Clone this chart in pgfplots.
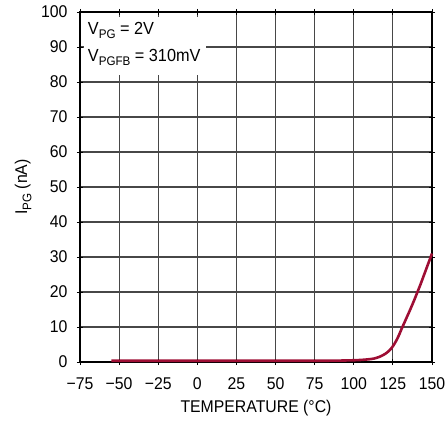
\documentclass[border=0pt]{standalone}
\usepackage{pgfplots}
\pgfplotsset{compat=1.18}
\usepackage{fontspec}
\setmainfont[FakeStretch=0.93]{Liberation Sans}
\definecolor{curve}{RGB}{158,14,52}
\newcommand{\sub}[1]{\raisebox{-4.5pt}{\fontsize{12.5}{13}\selectfont #1}}
\begin{document}
\begin{tikzpicture}
\begin{axis}[
  name=ax,
  at={(0,0)}, anchor=south west,
  scale only axis, width=352pt, height=350pt,
  xmin=-75, xmax=150, ymin=0, ymax=100,
  xtick={-75,-50,-25,0,25,50,75,100,125,150},
  xticklabels={−75,−50,−25,0,25,50,75,100,125,150},
  ytick={0,10,20,30,40,50,60,70,80,90,100},
  yticklabels={0,10,20,30,40,50,60,70,80,90,100},
  grid=major,
  grid style={line width=1.1pt, color=black!72},
  axis line style={line width=1.2pt, black},
  tick style={line width=0.9pt, black},
  major tick length=6pt,
  tick align=center,
  tick label style={font=\fontsize{17}{19}\selectfont},
  xticklabel style={anchor=base, yshift=-24pt},
  yticklabel style={anchor=east, xshift=-6pt},
  clip=false,
]
\addplot[color=curve, line width=2.6pt, smooth] coordinates {
  (-55,0.35) (-25,0.35) (0,0.35) (25,0.35) (50,0.35) (75,0.35) (90,0.4) (100,0.5)
  (105,0.6) (110,0.8) (113,1.0) (116,1.4) (118,1.8) (120,2.3) (121.5,2.8)
  (123,3.4) (124.5,4.2) (126,5.2) (127.5,6.4) (129,7.8) (130.5,9.4) (132,10.9)
  (134,12.9) (136,14.9) (138,17.0) (140,19.2) (142.5,22.0) (145,25.0)
  (147.5,28.0) (150,31)
};
\end{axis}
\fill[white] ([shift={(3.5pt,-5.5pt)}]ax.north west) rectangle ([shift={(126pt,-63pt)}]ax.north west);
\node[anchor=base west, inner sep=0pt, font=\fontsize{17.5}{19}\selectfont] at ([shift={(7.7pt,-22.3pt)}]ax.north west) {V\sub{PG} = 2V};
\node[anchor=base west, inner sep=0pt, font=\fontsize{17.5}{19}\selectfont] at ([shift={(7.7pt,-49pt)}]ax.north west) {V\sub{PGFB} = 310mV};
\node[anchor=base, font=\fontsize{17}{19}\selectfont] at ([yshift=-50pt]ax.south) {TEMPERATURE (°C)};
\node[anchor=base, rotate=90, font=\fontsize{17}{19}\selectfont] at ([xshift=-53pt]ax.west) {I\sub{PG} (nA)};
\pgfresetboundingbox
\path[use as bounding box] ([shift={(-80pt,-59pt)}]ax.south west) rectangle ([shift={(14pt,12pt)}]ax.north east);
\end{tikzpicture}
\end{document}
